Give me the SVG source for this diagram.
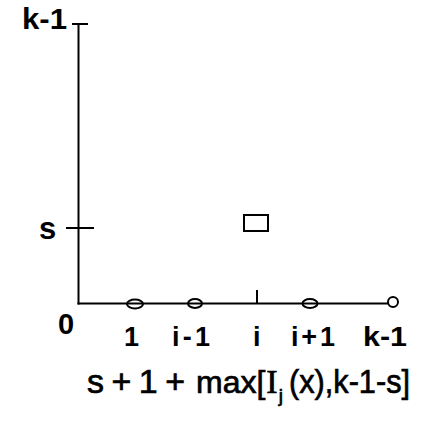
<svg xmlns="http://www.w3.org/2000/svg" width="424" height="421" viewBox="0 0 424 421">
<style>
.ax{stroke:#000;stroke-width:2;fill:none;stroke-linecap:square}
.lbl{font-family:"Liberation Sans",Arial,sans-serif;font-weight:bold;fill:#000}
.f{font-family:"Liberation Sans",Arial,sans-serif;fill:#000;font-size:34px;stroke:#000;stroke-width:0.7}
.mk{fill:none;stroke:#000;stroke-width:2}
</style>
<rect width="424" height="421" fill="#fff"/>
<g id="connectors">
<line class="ax" x1="78.5" y1="25" x2="78.5" y2="303.5"/>
<line class="ax" x1="78.5" y1="303.5" x2="388" y2="303.5"/>
<line class="ax" x1="73" y1="24" x2="87" y2="24"/>
<line class="ax" x1="67" y1="228" x2="93" y2="228"/>
<line class="ax" x1="257" y1="291" x2="257" y2="303"/>
</g>
<g id="axis-labels">
<text class="lbl" x="22" y="29" font-size="29" textLength="45" lengthAdjust="spacingAndGlyphs">k-1</text>
<text class="lbl" x="39" y="239" font-size="31">s</text>
<text class="lbl" x="58" y="334" font-size="29">0</text>
</g>
<g id="tick-labels">
<text class="lbl" x="124" y="346" font-size="27">1</text>
<text class="lbl" x="172" y="346" font-size="27" textLength="38" lengthAdjust="spacing">i-1</text>
<text class="lbl" x="253" y="346" font-size="27">i</text>
<text class="lbl" x="291" y="346" font-size="27" textLength="44" lengthAdjust="spacing">i+1</text>
<text class="lbl" x="363" y="346" font-size="27" textLength="44" lengthAdjust="spacingAndGlyphs">k-1</text>
</g>
<g id="markers">
<ellipse class="mk" cx="135" cy="304" rx="8" ry="4.5"/>
<ellipse class="mk" cx="195" cy="303.5" rx="7" ry="4.5"/>
<ellipse class="mk" cx="310" cy="303.5" rx="7.5" ry="4.5" stroke-width="3"/>
<circle class="mk" cx="393" cy="302" r="5"/>
</g>
<g id="box">
<rect x="244" y="215" width="24" height="16" fill="none" stroke="#000" stroke-width="2"/>
</g>
<g id="formula">
<text class="f" x="87" y="393" textLength="98" lengthAdjust="spacing">s+1+</text>
<text class="f" x="196" y="393"><tspan font-size="32">max[</tspan><tspan dx="1" font-family="'Liberation Serif',serif">I</tspan><tspan dx="1" dy="9" font-size="19">j</tspan></text>
<text class="f" x="289" y="393" textLength="121" lengthAdjust="spacingAndGlyphs">(x),k-1-s]</text>
</g>
</svg>
